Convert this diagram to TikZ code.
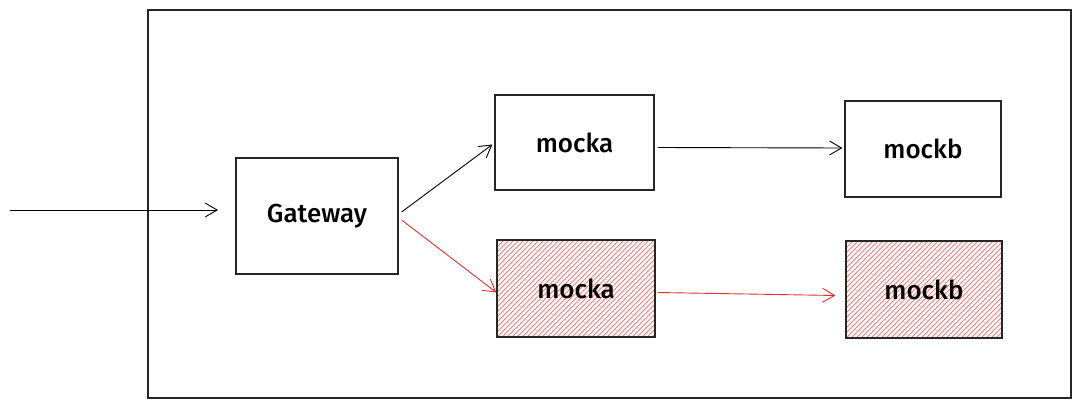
\documentclass[tikz,border=0pt]{standalone}
\usepackage{fontspec}
\setmainfont{Fira Sans}[BoldFont={* Medium}]
\usetikzlibrary{arrows.meta,calc}
\definecolor{exred}{HTML}{E03131}
\begin{document}
\begin{tikzpicture}[x=1pt,y=-1pt,
  box/.style={draw=black!85,line width=1.2pt,inner sep=0pt,font=\fontsize{26}{30}\selectfont\bfseries},
  hatchline/.style={draw=exred!65,line width=0.7pt},
  redbox/.style={box,fill=exred!5,path picture={
      \foreach \i in {-110,-105,...,170}
        \draw[hatchline] ($(path picture bounding box.south west)+(\i,0)$) -- ++(120,-120);}},
  conn/.style={line width=0.9pt,-{Straight Barb[length=12pt,width=14pt,line width=0.9pt]}},
  redconn/.style={conn,draw=exred}]
\useasboundingbox (0,0) rectangle (1080,407);
\draw[line width=1.2pt,draw=black!85] (148,10) rectangle (1071,398);
\node[box,minimum width=162pt,minimum height=116pt] (gw) at (317,216) {Gateway};
\node[box,minimum width=159pt,minimum height=95pt] (ma) at (574.5,142.5) {mocka};
\node[box,minimum width=156pt,minimum height=96pt] (mb) at (923,149) {mockb};
\node[redbox,minimum width=158pt,minimum height=97pt] (ra) at (576,288.5) {mocka};
\node[redbox,minimum width=156pt,minimum height=97pt] (rb) at (924,289.5) {mockb};
\coordinate (src) at (10,210);
\coordinate (inend) at (218,210);
\draw[conn] (src) -- (inend);
\draw[conn] ($(gw.east)+(3,-4)$) -- ($(ma.west)+(-2,2)$);
\draw[redconn] ($(gw.east)+(3,4)$) -- ($(ra.west)+(0,4)$);
\draw[conn] ($(ma.east)+(3,5)$) -- ($(mb.west)+(-2,-1)$);
\draw[redconn] ($(ra.east)+(2,4)$) -- ($(rb.west)+(-10,6)$);
\end{tikzpicture}
\end{document}
